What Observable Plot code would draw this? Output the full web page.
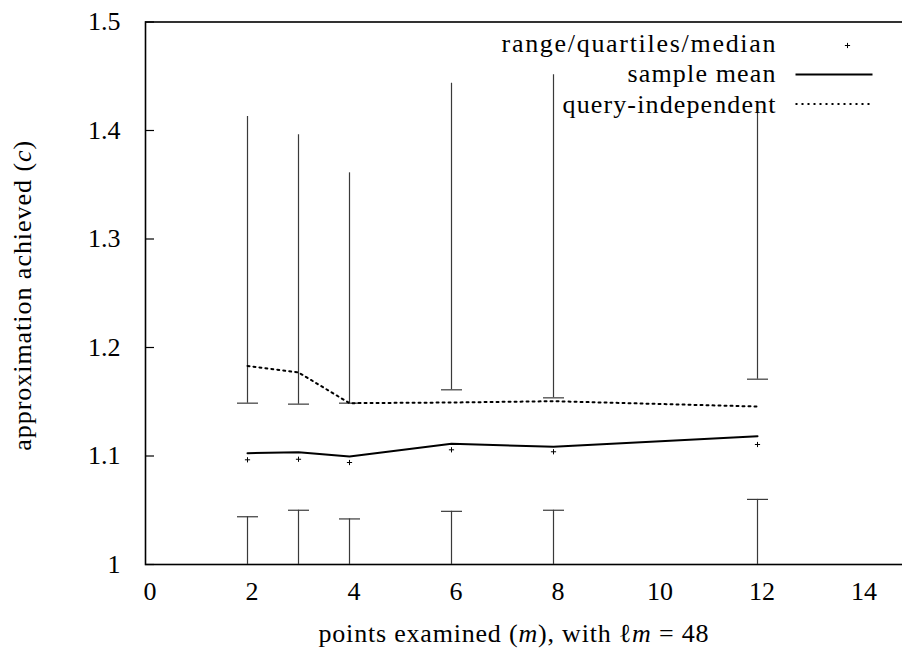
<!DOCTYPE html>
<html><head><meta charset="utf-8">
<script src="https://cdn.jsdelivr.net/npm/d3@7"></script>
<script src="https://cdn.jsdelivr.net/npm/@observablehq/plot@0.6"></script>
<style>
html,body{margin:0;padding:0;background:#fff;overflow:hidden;}
#chart svg{display:block;overflow:hidden;}
</style></head><body><div id="chart"></div>
<script>
// points examined (m)
const m = [2, 3, 4, 6, 8, 12];
const rangeMin = [1.0, 1.0, 1.0, 1.0, 1.0, 1.0];
const quartile1 = [1.044, 1.050, 1.042, 1.049, 1.050, 1.060];
const median = [1.0965, 1.097, 1.094, 1.1057, 1.1039, 1.1106];
const quartile3 = [1.1487, 1.1478, 1.1487, 1.161, 1.1536, 1.1708];
const rangeMax = [1.413, 1.396, 1.361, 1.4436, 1.4513, 1.421];
const sampleMean = [1.1026, 1.1035, 1.0995, 1.1112, 1.1085, 1.1183];
const queryIndependent = [1.183, 1.177, 1.1487, 1.1493, 1.1505, 1.1456];
const xTicks = [0, 2, 4, 6, 8, 10, 12, 14];
const yTicks = [1, 1.1, 1.2, 1.3, 1.4, 1.5];
const yTickLabels = ["1", "1.1", "1.2", "1.3", "1.4", "1.5"];
const legendLabels = ["range/quartiles/median", "sample mean", "query-independent"];
const xLabel = "points examined (m), with ℓm = 48";
const yLabel = "approximation achieved (c)";

const rows = m.map((x, i) => ({
  m: x, min: rangeMin[i], q1: quartile1[i], med: median[i], q3: quartile3[i],
  max: rangeMax[i], mean: sampleMean[i], qi: queryIndependent[i]
}));

// pick an installed serif face (Computer Modern look-alike)
function pickSerif() {
  const c = document.createElement("canvas").getContext("2d");
  const probe = "range/quartiles/median 1.234 Wmg";
  const w = f => { c.font = "26px " + f; return c.measureText(probe).width; };
  const base = [w("monospace"), w("sans-serif")];
  const cands = ["Liberation Serif", "DejaVu Serif", "Tinos", "Times New Roman", "Noto Serif", "FreeSerif", "Nimbus Roman", "Times"];
  for (const f of cands) {
    const a = w(`"${f}", monospace`), b = w(`"${f}", sans-serif`);
    if (Math.abs(a - b) < 0.01 && Math.abs(a - base[0]) > 0.01) return `"${f}"`;
  }
  return "serif";
}
const font = pickSerif() + ", serif";

const hbar = {draw(ctx) { ctx.moveTo(-10.5, 0); ctx.lineTo(10.5, 0); }};
const plus = {draw(ctx) { ctx.moveTo(-2.6, 0); ctx.lineTo(2.6, 0); ctx.moveTo(0, -2.6); ctx.lineTo(0, 2.6); }};
const sampleLine = {draw(ctx) { ctx.moveTo(-38.5, 0); ctx.lineTo(38.5, 0); }};
const whisker = {stroke: "#3a3a3a", strokeWidth: 1.2};
const txt = {fontFamily: font, fontSize: 26};

const plot = Plot.plot({
  width: 902, height: 655,
  marginLeft: 145, marginRight: -8, marginTop: 21.5, marginBottom: 91,
  style: {fontSize: "26px", fontFamily: font, color: "black", background: "white"},
  x: {domain: [0, 15]},
  y: {domain: [1, 1.5]},
  marks: [
    Plot.axisX(xTicks, {tickSize: 0, tickPadding: 17, dx: 4.5, label: null, ...txt}),
    Plot.axisY(yTicks, {tickSize: -9, tickPadding: 34, label: null, ...txt,
      tickFormat: d => yTickLabels[yTicks.indexOf(d)], strokeWidth: 1.2}),
    Plot.axisY(yTicks, {anchor: "right", tickSize: -9, tickFormat: () => "", label: null, strokeWidth: 1.2}),
    Plot.frame({stroke: "black", strokeWidth: 1.6}),
    Plot.ruleX(rows, {x: "m", y1: "min", y2: "q1", ...whisker}),
    Plot.ruleX(rows, {x: "m", y1: "q3", y2: "max", ...whisker}),
    Plot.dot(rows, {x: "m", y: "q1", symbol: hbar, fill: "none", ...whisker}),
    Plot.dot(rows, {x: "m", y: "q3", symbol: hbar, fill: "none", ...whisker}),
    Plot.dot(rows, {x: "m", y: "med", symbol: plus, fill: "none", stroke: "black", strokeWidth: 1}),
    Plot.line(rows, {x: "m", y: "mean", stroke: "black", strokeWidth: 2}),
    Plot.line(rows, {x: "m", y: "qi", stroke: "black", strokeWidth: 2, strokeDasharray: "2,4"}),
    // legend
    Plot.text([legendLabels[0]], {text: d => d, frameAnchor: "top-right", dx: -135, dy: 21.5, textAnchor: "end", lineAnchor: "middle", ...txt}),
    Plot.text([legendLabels[1]], {text: d => d, frameAnchor: "top-right", dx: -135, dy: 52, textAnchor: "end", lineAnchor: "middle", ...txt}),
    Plot.text([legendLabels[2]], {text: d => d, frameAnchor: "top-right", dx: -135, dy: 82.5, textAnchor: "end", lineAnchor: "middle", ...txt}),
    Plot.dot([legendLabels[0]], {frameAnchor: "top-right", dx: -63, dy: 23.5, symbol: plus, fill: "none", stroke: "black", strokeWidth: 1}),
    Plot.dot([legendLabels[1]], {frameAnchor: "top-right", dx: -76.5, dy: 52.5, symbol: sampleLine, fill: "none", stroke: "black", strokeWidth: 2}),
    Plot.dot([legendLabels[2]], {frameAnchor: "top-right", dx: -76.5, dy: 82, symbol: sampleLine, fill: "none", stroke: "black", strokeWidth: 2, strokeDasharray: "2,4"}),
    // axis titles (start-anchored so that textLength spacing keeps their extent)
    Plot.text([xLabel], {text: d => d, frameAnchor: "bottom", dx: -209.5, dy: 69, textAnchor: "start", lineAnchor: "middle", ...txt}),
    Plot.text([yLabel], {text: d => d, frameAnchor: "left", dx: -123, dy: 157.5, rotate: -90, textAnchor: "start", lineAnchor: "middle", ...txt})
  ]
});
document.getElementById("chart").appendChild(plot);

// typographic touches: math italics and widths
const fits = {
  "range/quartiles/median": 274,
  "sample mean": 148,
  "query-independent": 213,
};
plot.querySelectorAll("text").forEach(t => {
  t.style.fontFamily = font;
  const s = t.textContent;
  if (s === xLabel) {
    t.innerHTML = 'points examined (<tspan font-style="italic">m</tspan>), with ℓ<tspan font-style="italic">m</tspan> = 48';
    t.setAttribute("textLength", 390); t.setAttribute("lengthAdjust", "spacing");
  } else if (s === yLabel) {
    t.innerHTML = 'approximation achieved (<tspan font-style="italic">c</tspan>)';
    t.setAttribute("textLength", 310); t.setAttribute("lengthAdjust", "spacing");
  } else if (fits[s]) {
    t.setAttribute("textLength", fits[s]); t.setAttribute("lengthAdjust", "spacing");
  }
});
</script>
</body></html>
